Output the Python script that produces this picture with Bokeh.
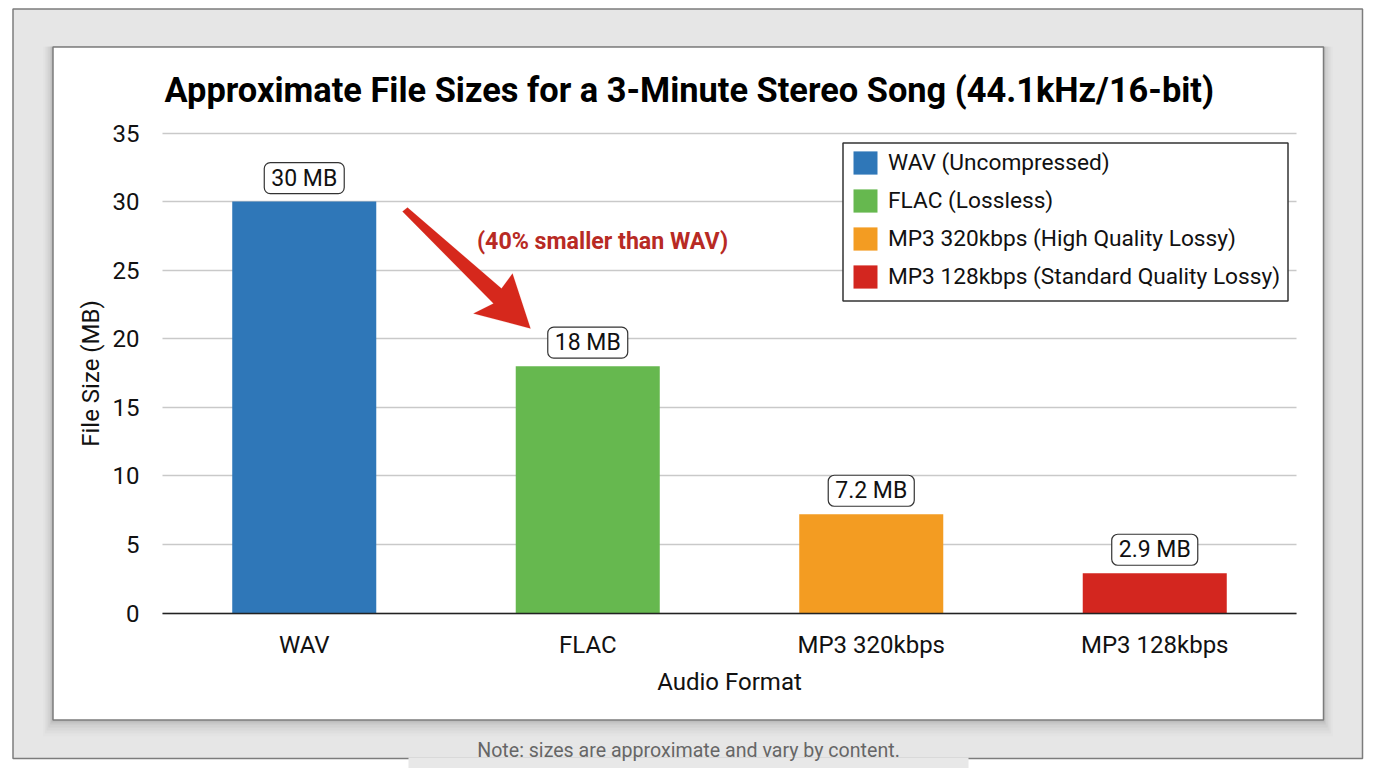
from bokeh.embed import file_html
from bokeh.resources import INLINE
from bokeh.models import (BoxAnnotation, ColumnDataSource, FixedTicker, Label,
                          Legend, LegendItem, PolyAnnotation, Range1d)
from bokeh.plotting import figure

formats = ["WAV", "FLAC", "MP3 320kbps", "MP3 128kbps"]
positions = [0, 1, 2, 3]
sizes_mb = [30, 18, 7.2, 2.9]
value_labels = ["30 MB", "18 MB", "7.2 MB", "2.9 MB"]
legend_labels = ["WAV (Uncompressed)", "FLAC (Lossless)",
                 "MP3 320kbps (High Quality Lossy)",
                 "MP3 128kbps (Standard Quality Lossy)"]
bar_colors = ["#2f77b8", "#66b84f", "#f39c22", "#d3261f"]
y_ticks = [0, 5, 10, 15, 20, 25, 30, 35]
title_text = "Approximate File Sizes for a 3-Minute Stereo Song (44.1kHz/16-bit)"
callout = "(40% smaller than WAV)"
note = "Note: sizes are approximate and vary by content."
FONT = "Roboto"
W, H = 1376, 768
X_PX, X0_PX = 283.5, 303.75   # px per category, px of first category
Y_PX, Y0_PX = 480 / 35, 612.5  # px per MB, px of zero


def sy(v):
    return H - v


p = figure(width=W, height=H, output_backend="svg", toolbar_location=None,
           x_range=Range1d(-X0_PX / X_PX, (W - X0_PX) / X_PX),
           y_range=Range1d((Y0_PX - H) / Y_PX, Y0_PX / Y_PX),
           min_border=0, background_fill_color="white", border_fill_color="white",
           outline_line_color=None)


def box(l, t, r, b, fill, alpha=1.0, line=None, lw=1.5, level="image"):
    p.add_layout(BoxAnnotation(left=l, right=r, top=sy(t), bottom=sy(b),
                               left_units="screen", right_units="screen",
                               top_units="screen", bottom_units="screen",
                               fill_color=fill, fill_alpha=alpha, line_color=line,
                               line_alpha=1, line_width=lw, level=level, editable=False))


# outer grey panel, soft shadow, white card
box(12.5, 8.5, 1362, 758, "#e6e6e6", line="#7c7c7c")
for g, a in [(16, .012), (13, .018), (10, .025), (7, .03), (4, .04), (2, .05)]:
    box(52 - g * .6, 46, 1323 + g * .6, 720 + g, "#000000", a)
box(52.5, 46.5, 1323, 719.5, "#ffffff", line="#7c7c7c")
box(408, 757, 968, 768, "#e8e8e8")

items = []
for pos, val, col, leg in zip(positions, sizes_mb, bar_colors, legend_labels):
    src = ColumnDataSource(dict(x=[pos], top=[val]))
    r = p.vbar(x="x", top="top", width=0.508, bottom=0, source=src, fill_color=col,
               line_color=None)
    items.append(LegendItem(label=leg, renderers=[r]))

p.text(x=positions, y=sizes_mb, text=value_labels, y_offset=-8, text_align="center",
       text_baseline="bottom", text_font={"value": FONT}, text_font_size="23px",
       text_color="#111111", background_fill_color="white",
       border_line_color="#333333", border_line_width=1.2,
       border_radius=6, padding=(7, 2))

ax = p.xaxis[0]
ax.fixed_location = 0
ax.bounds = (-0.5, 3.5)
ax.ticker = FixedTicker(ticks=positions)
ax.major_label_overrides = dict(zip(positions, formats))
ax.axis_label = "Audio Format"
ax.axis_label_text_font = FONT
ax.axis_label_text_font_size = "24px"
ax.axis_label_text_font_style = "normal"
ax.axis_label_text_color = "#111111"
ax.axis_label_standoff = 5
ax.major_label_text_font = FONT
ax.major_label_text_font_size = "24px"
ax.major_label_text_color = "#111111"
ax.major_label_standoff = 12
ax.major_tick_line_color = None
ax.minor_tick_line_color = None
ax.axis_line_color = "#222222"
ax.axis_line_width = 1.5

ay = p.yaxis[0]
ay.fixed_location = -0.5
ay.bounds = (0, 35)
ay.ticker = FixedTicker(ticks=y_ticks)
ay.axis_label = "File Size (MB)"
ay.axis_label_text_font = FONT
ay.axis_label_text_font_size = "24px"
ay.axis_label_text_font_style = "normal"
ay.axis_label_text_color = "#111111"
ay.axis_label_standoff = 5
ay.major_label_text_font = FONT
ay.major_label_text_font_size = "24px"
ay.major_label_text_color = "#111111"
ay.major_label_standoff = 17
ay.major_tick_line_color = None
ay.minor_tick_line_color = None
ay.axis_line_color = None

p.xgrid.grid_line_color = None
p.ygrid.ticker = FixedTicker(ticks=y_ticks)
p.ygrid.cross_bounds = (-0.5, 3.5)
p.ygrid.grid_line_color = "#c9c9c9"
p.ygrid.grid_line_width = 1.4

# legend frame, then the borderless legend placed inside it
box(842.5, 142.5, 1287.5, 300.5, "#ffffff", line="#333333", level="annotation")
legend = Legend(items=items, location=(850, sy(291)), orientation="vertical", margin=0,
                padding=0, spacing=9, glyph_width=30, glyph_height=29,
                label_standoff=8, label_text_font=FONT, label_text_font_size="22.7px",
                label_text_color="#111111", label_height=23,
                border_line_color=None, background_fill_alpha=0)
p.add_layout(legend)

arrow_x = [402, 407, 501, 512, 530, 473, 493]
arrow_y = [211, 207, 288, 273, 328, 313, 303]
p.add_layout(PolyAnnotation(xs=arrow_x, ys=[sy(v) for v in arrow_y],
                            xs_units="screen", ys_units="screen", fill_color="#d6281c",
                            fill_alpha=1, line_color="#d6281c", line_width=0.5,
                            editable=False))


def text(x, y, s, size, color, style="normal", align="center"):
    p.add_layout(Label(x=x, y=sy(y), x_units="screen", y_units="screen", text=s,
                       text_align=align, text_baseline="middle", text_font=FONT,
                       text_font_size=size, text_font_style=style, text_color=color))


text(164, 89, title_text, "34.4px", "#000000", "bold", "left")
text(602, 240, callout, "23.2px", "#b82a24", "bold")
text(688, 750, note, "19.6px", "#666666")

open("out.html", "w").write(file_html(p, INLINE))
